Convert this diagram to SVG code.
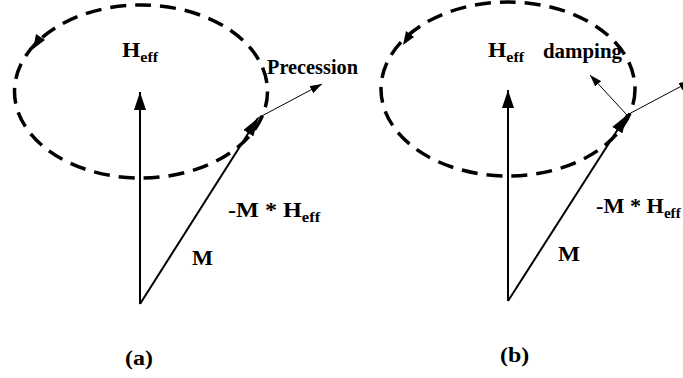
<svg xmlns="http://www.w3.org/2000/svg" width="683" height="378" viewBox="0 0 683 378">
<style>
.orbit{fill:none;stroke:#000;stroke-width:3.5;stroke-dasharray:16 9}
.vec{stroke:#000;stroke-width:2;fill:none}
.thin{stroke:#000;stroke-width:1;fill:none}
text{font-family:"Liberation Serif","Times New Roman",serif;font-weight:bold;fill:#000;font-size:22px}
.sub{font-size:15px}
</style>
<defs>
<marker id="ah" viewBox="0 0 18 12" refX="18" refY="6" markerWidth="18" markerHeight="12" markerUnits="userSpaceOnUse" orient="auto">
<path d="M0,0 L18,6 L0,12 Z" fill="#000"/>
</marker>
<marker id="ahs" viewBox="0 0 12 8" refX="12" refY="4" markerWidth="12" markerHeight="8" markerUnits="userSpaceOnUse" orient="auto">
<path d="M0,0 L12,4 L0,8 Z" fill="#000"/>
</marker>
</defs>
<rect width="683" height="378" fill="#fff"/>
<g id="panel-a">
<g id="orbit-a">
<ellipse class="orbit" cx="141" cy="91.5" rx="126.5" ry="86.5"/>
<polygon points="33,49 36,34 45,40" fill="#000"/>
</g>
<g id="connectors-a">
<line class="vec" x1="140" y1="304" x2="140" y2="92" marker-end="url(#ah)"/>
<line class="vec" x1="140" y1="304" x2="258" y2="118" marker-end="url(#ah)"/>
<line class="thin" x1="258" y1="118" x2="322" y2="84" marker-end="url(#ahs)"/>
</g>
<g id="labels-a">
<text transform="translate(122,57) scale(1.07,1)">H<tspan class="sub" dy="5">eff</tspan></text>
<text x="267" y="74" font-size="21" textLength="91" lengthAdjust="spacingAndGlyphs">Precession</text>
<text transform="translate(228,217) scale(1.1,1)">-M * H<tspan class="sub" dy="5">eff</tspan></text>
<text x="192" y="265" font-size="24" textLength="21" lengthAdjust="spacingAndGlyphs">M</text>
<text transform="translate(125,365) scale(1.09,1)">(a)</text>
</g>
</g>
<g id="panel-b">
<g id="orbit-b">
<ellipse class="orbit" cx="508" cy="89" rx="127" ry="87"/>
<polygon points="403,45 406,31 414,37" fill="#000"/>
</g>
<g id="connectors-b">
<line class="vec" x1="508" y1="301" x2="508" y2="90" marker-end="url(#ah)"/>
<line class="vec" x1="508" y1="301" x2="627" y2="115" marker-end="url(#ah)"/>
<line class="thin" x1="627" y1="115" x2="590" y2="75" marker-end="url(#ahs)"/>
<line class="thin" x1="627" y1="115" x2="691" y2="81" marker-end="url(#ahs)"/>
</g>
<g id="labels-b">
<text transform="translate(488,57) scale(1.07,1)">H<tspan class="sub" dy="5">eff</tspan></text>
<text x="543" y="58" font-size="21" textLength="79" lengthAdjust="spacingAndGlyphs">damping</text>
<text transform="translate(596,213) scale(1.01,1)">-M * H<tspan class="sub" dy="5">eff</tspan></text>
<text x="558" y="261" font-size="24" textLength="22" lengthAdjust="spacingAndGlyphs">M</text>
<text transform="translate(500,362) scale(1.09,1)">(b)</text>
</g>
</g>
</svg>
